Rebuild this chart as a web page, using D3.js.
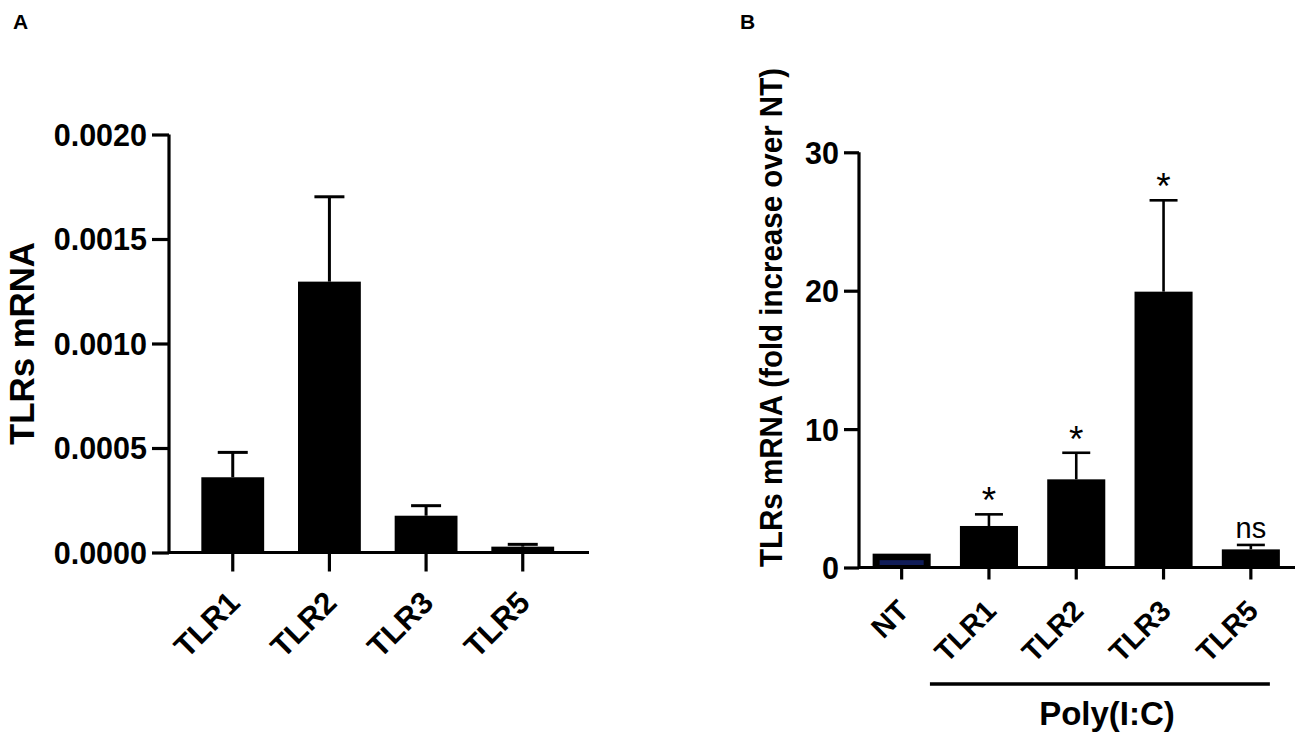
<!DOCTYPE html>
<html>
<head>
<meta charset="utf-8">
<script src="https://cdn.jsdelivr.net/npm/d3@7"></script>
<style>
  body { margin: 0; background: #fff; }
  svg text { font-family: "Liberation Sans", Arial, sans-serif; fill: #000; }
</style>
</head>
<body>
<svg id="chart" width="1299" height="737"></svg>
<script>
// ---- Panel A data ----
const catsA = ["TLR1", "TLR2", "TLR3", "TLR5"];
const meanA = [0.00036, 0.001296, 0.000176, 0.000028];
const errA  = [0.000479, 0.001702, 0.000224, 0.000039];
const ticksA = [0, 0.0005, 0.0010, 0.0015, 0.0020];

// ---- Panel B data ----
const catsB = ["NT", "TLR1", "TLR2", "TLR3", "TLR5"];
const meanB = [1.0, 3.0, 6.37, 19.93, 1.31];
const errB  = [null, 3.84, 8.29, 26.53, 1.63];
const sigB  = ["", "*", "*", "*", "ns"];
const ticksB = [0, 10, 20, 30];

const svg = d3.select("#chart");

function panel(opts) {
  const g = svg.append("g");
  const x = d3.scaleBand().domain(opts.cats).range(opts.xRange)
    .paddingInner(opts.padIn).paddingOuter(opts.padOut);
  const y = d3.scaleLinear().domain(opts.yDomain).range(opts.yRange);

  // bars
  g.selectAll("rect.bar").data(opts.cats).join("rect")
    .attr("class", "bar")
    .attr("x", d => x(d))
    .attr("width", x.bandwidth())
    .attr("y", (d, i) => y(opts.mean[i]))
    .attr("height", (d, i) => y(0) - y(opts.mean[i]))
    .attr("fill", "#000");

  // error bars
  const eb = g.selectAll("g.err").data(opts.cats.map((c, i) => ({c, m: opts.mean[i], e: opts.err[i]})).filter(d => d.e != null))
    .join("g").attr("class", "err");
  eb.append("line")
    .attr("x1", d => x(d.c) + x.bandwidth() / 2).attr("x2", d => x(d.c) + x.bandwidth() / 2)
    .attr("y1", d => y(d.m)).attr("y2", d => y(d.e))
    .attr("stroke", "#000").attr("stroke-width", opts.errW);
  eb.append("line")
    .attr("x1", d => x(d.c) + x.bandwidth() / 2 - opts.capW / 2)
    .attr("x2", d => x(d.c) + x.bandwidth() / 2 + opts.capW / 2)
    .attr("y1", d => y(d.e)).attr("y2", d => y(d.e))
    .attr("stroke", "#000").attr("stroke-width", opts.errW);

  // y axis
  const yAxis = d3.axisLeft(y).tickValues(opts.ticks).tickFormat(opts.fmt)
    .tickSize(opts.yTick).tickPadding(5);
  const ya = g.append("g").attr("transform", `translate(${opts.axisX},0)`).call(yAxis);
  ya.select(".domain").attr("d", `M0,${y(opts.yDomain[1])}V${y(0)}`).attr("stroke-width", 3.2);
  ya.selectAll(".tick line").attr("stroke-width", 3.2);
  ya.selectAll(".tick text").attr("font-size", opts.tickFont).attr("font-weight", "bold")
    .attr("dy", "0.36em");

  // x axis
  const xAxis = d3.axisBottom(x).tickSize(opts.xTick).tickFormat("");
  const xa = g.append("g").attr("transform", `translate(0,${y(0)})`).call(xAxis);
  xa.select(".domain").attr("d", `M${opts.axisX},0H${opts.axisEnd}`).attr("stroke-width", 3.2);
  xa.selectAll(".tick line").attr("stroke-width", 3.2);

  // rotated category labels
  g.selectAll("text.cat").data(opts.cats).join("text")
    .attr("class", "cat")
    .attr("text-anchor", "end")
    .attr("font-size", opts.catFont).attr("font-weight", "bold")
    .attr("transform", d => `translate(${x(d) + x.bandwidth() / 2 + 9},${y(0) + opts.xTick + 33}) rotate(-45)`)
    .text(d => d);

  // y title
  const t = g.append("text")
    .attr("text-anchor", "middle")
    .attr("font-size", opts.titleFont).attr("font-weight", "bold")
    .attr("transform", `translate(${opts.titleX},${opts.titleY}) rotate(-90)`)
    .text(opts.title);
  if (opts.titleLen) t.attr("textLength", opts.titleLen).attr("lengthAdjust", "spacingAndGlyphs");

  return {g, x, y};
}

// Panel A
const A = panel({
  cats: catsA, mean: meanA, err: errA, ticks: ticksA,
  fmt: d3.format(".4f"),
  xRange: [167.5, 588], padIn: 0.35, padOut: 0.35,
  yDomain: [0, 0.002], yRange: [552.5, 134.5],
  axisX: 169, axisEnd: 589, yTick: 17, xTick: 19,
  errW: 3, capW: 30, tickFont: 30.5, catFont: 31,
  title: "TLRs mRNA", titleX: 34, titleY: 343.5, titleFont: 34.8
});

// Panel B
const B = panel({
  cats: catsB, mean: meanB, err: errB, ticks: ticksB,
  fmt: d3.format("d"),
  xRange: [858, 1294.5], padIn: 0.335, padOut: 0.1675,
  yDomain: [0, 30], yRange: [567.5, 152.3],
  axisX: 859, axisEnd: 1295, yTick: 15, xTick: 12,
  errW: 2.6, capW: 28, tickFont: 30.5, catFont: 29,
  title: "TLRs mRNA (fold increase over NT)", titleX: 782, titleY: 317.5, titleFont: 32, titleLen: 499
});

// NT bar inner navy fill
{
  const xb = B.x, yb = B.y;
  const bw = xb.bandwidth();
  B.g.insert("rect", "g.err")
    .attr("x", xb("NT") + 7).attr("width", bw - 14)
    .attr("y", yb(meanB[0]) + 6.5)
    .attr("height", (yb(0) - 2.5) - (yb(meanB[0]) + 6.5))
    .attr("fill", "#101c58");
}

// significance labels
B.g.selectAll("text.sig").data(catsB.map((c, i) => ({c, s: sigB[i], e: errB[i]})).filter(d => d.s))
  .join("text").attr("class", "sig")
  .attr("text-anchor", "middle")
  .attr("x", d => B.x(d.c) + B.x.bandwidth() / 2)
  .attr("y", d => B.y(d.e) - (d.s === "ns" ? 7 : 1))
  .attr("font-size", d => d.s === "ns" ? 29 : 37)
  .text(d => d.s);

// Poly(I:C) bracket
const polyCats = catsB.slice(1);
svg.append("line")
  .attr("x1", B.x(polyCats[0]) - 30).attr("x2", B.x(polyCats[polyCats.length - 1]) + B.x.bandwidth() - 10)
  .attr("y1", 684).attr("y2", 684)
  .attr("stroke", "#000").attr("stroke-width", 3.5);
svg.append("text")
  .attr("x", 1107).attr("y", 725)
  .attr("text-anchor", "middle").attr("font-size", 33).attr("font-weight", "bold")
  .text("Poly(I:C)");

// panel letters
svg.append("text").attr("x", 13).attr("y", 29).attr("font-size", 21).attr("font-weight", "bold").text("A");
svg.append("text").attr("x", 740).attr("y", 29).attr("font-size", 21).attr("font-weight", "bold").text("B");
</script>
</body>
</html>
